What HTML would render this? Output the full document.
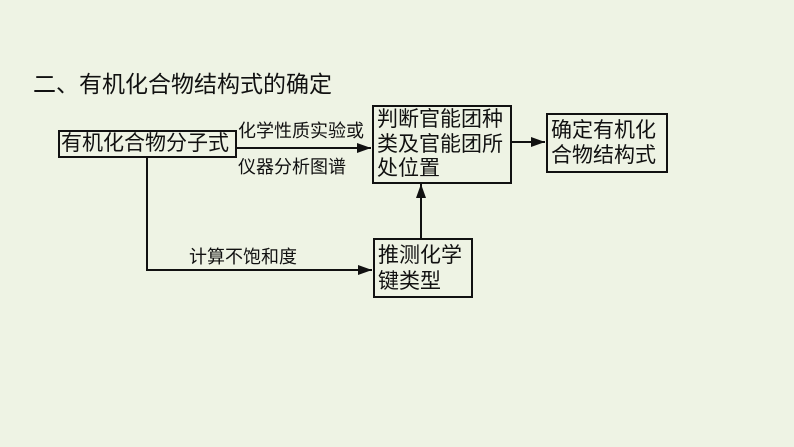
<!DOCTYPE html>
<html><head><meta charset="utf-8"><style>
body{margin:0;width:794px;height:447px;background:#eef3e4;overflow:hidden;font-family:"Liberation Sans","Noto Sans CJK SC",sans-serif;position:relative;color:#111}
.t{position:absolute;white-space:nowrap}
.b{position:absolute;border:2px solid #111;box-sizing:border-box;background:#eef3e4;font-size:21px;line-height:25px;padding-left:3px}
</style></head><body>
<div class="t" style="left:33px;top:65px;font-size:23px">二、有机化合物结构式的确定</div>
<svg width="794" height="447" style="position:absolute;left:0;top:0">
<defs><marker id="a" markerWidth="14" markerHeight="10" refX="14" refY="5" orient="auto" markerUnits="userSpaceOnUse"><path d="M0,0L14,5L0,10z" fill="#111"/></marker></defs>
<g stroke="#111" stroke-width="2" fill="none">
<line x1="236" y1="148" x2="371" y2="148" marker-end="url(#a)"/>
<line x1="512" y1="142" x2="545" y2="142" marker-end="url(#a)"/>
<polyline points="147,157 147,270 372,270" marker-end="url(#a)"/>
<line x1="421" y1="238" x2="421" y2="184" marker-end="url(#a)"/>
</g></svg>
<div class="b" style="left:58px;top:130px;width:179px;height:28px;line-height:24px;padding-left:1px">有机化合物分子式</div>
<div class="b" style="left:372px;top:105px;width:140px;height:79px;line-height:24.5px;padding-top:1px">判断官能团种<br>类及官能团所<br>处位置</div>
<div class="b" style="left:546px;top:113px;width:122px;height:60px;line-height:25px;padding-top:3px">确定有机化<br>合物结构式</div>
<div class="b" style="left:373px;top:238px;width:100px;height:60px;line-height:26px;padding-top:3px">推测化学<br>键类型</div>
<div class="t" style="left:238px;top:117px;font-size:18px">化学性质实验或</div>
<div class="t" style="left:238px;top:153px;font-size:18px">仪器分析图谱</div>
<div class="t" style="left:189px;top:243px;font-size:18px">计算不饱和度</div>
</body></html>
